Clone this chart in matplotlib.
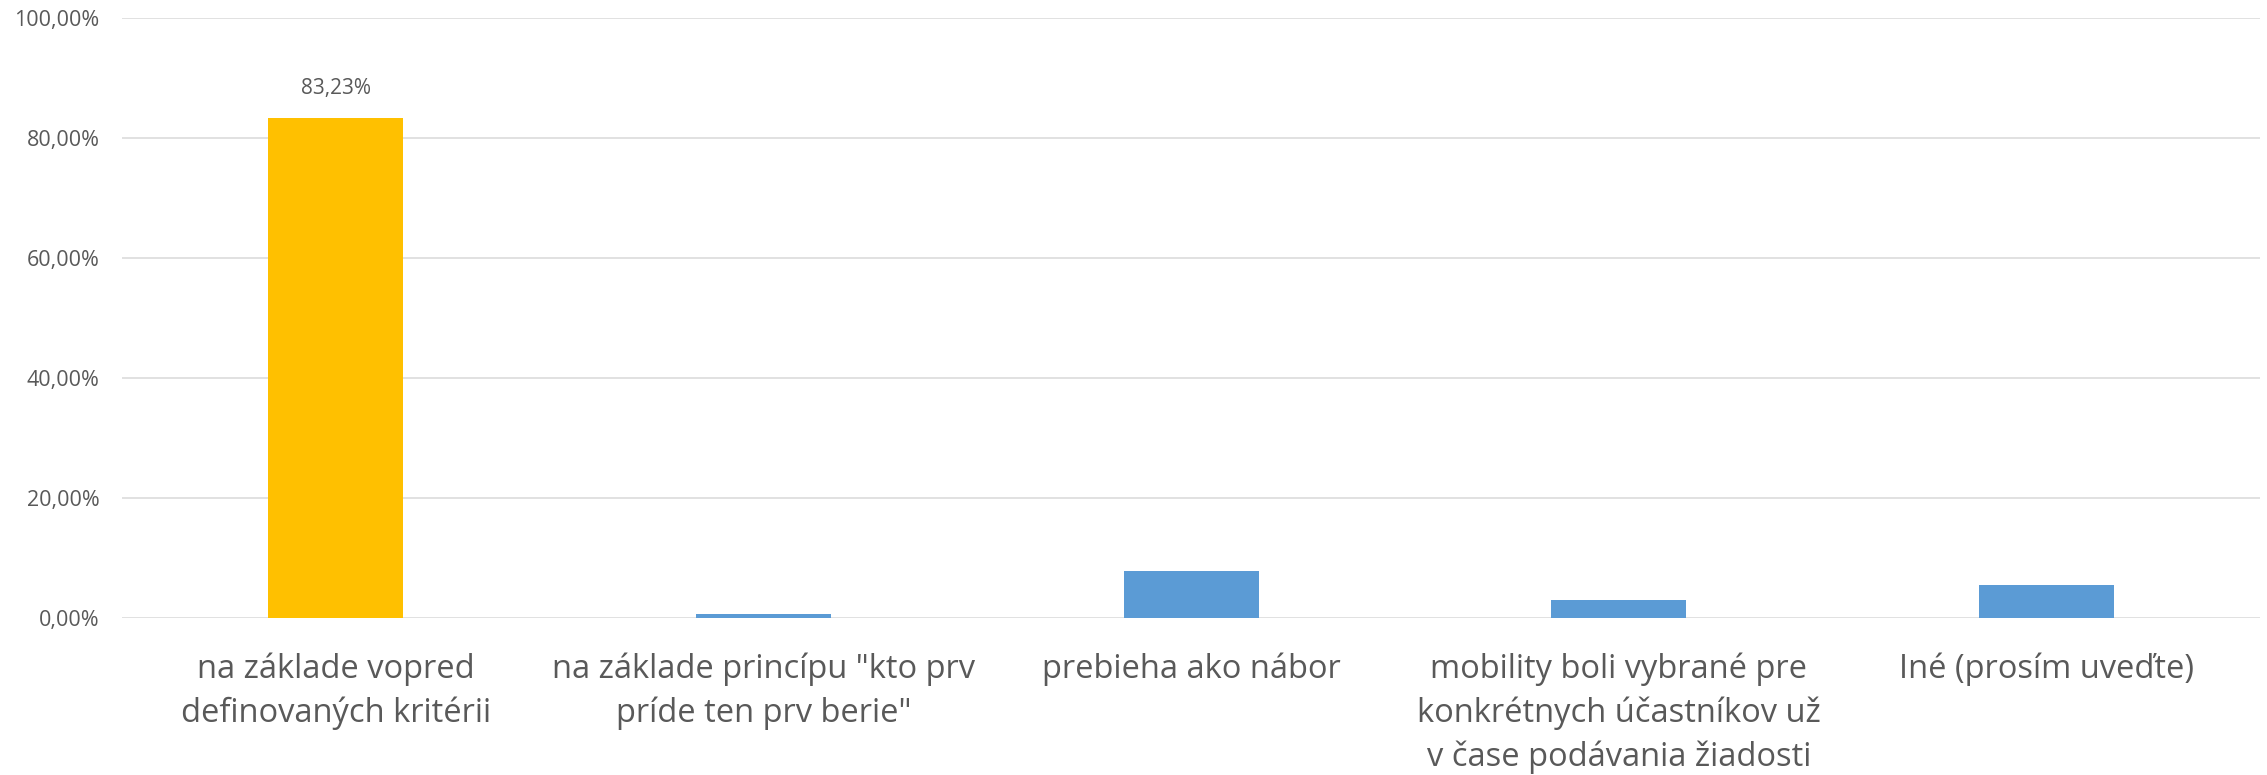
import matplotlib
matplotlib.use("Agg")
import matplotlib.pyplot as plt
from matplotlib.ticker import FuncFormatter, MultipleLocator

categories = [
    "na základe vopred\ndefinovaných kritérii",
    "na základe princípu \"kto prv\npríde ten prv berie\"",
    "prebieha ako nábor",
    "mobility boli vybrané pre\nkonkrétnych účastníkov už\nv čase podávania žiadosti",
    "Iné (prosím uveďte)",
]
values = [83.23, 0.6, 7.74, 3.0, 5.4]
colors = ["#FFC000", "#5B9BD5", "#5B9BD5", "#5B9BD5", "#5B9BD5"]
label_idx = 0

plt.rcParams['font.family'] = ['Open Sans', 'DejaVu Sans']
text_color = "#595959"

fig = plt.figure(figsize=(22.67, 7.75), dpi=100)
ax = fig.add_axes([0.0538, 0.2032, 0.9432, 0.7742])

x = range(len(categories))
bars = ax.bar(x, [v / 100 for v in values], width=0.316, color=colors, zorder=3)

ax.set_xlim(-0.5, len(categories) - 0.5)
ax.set_ylim(0, 1)
ax.yaxis.set_major_locator(MultipleLocator(0.2))
ax.yaxis.set_major_formatter(FuncFormatter(lambda v, p: f"{v*100:.2f}%".replace(".", ",")))
ax.grid(axis="y", color="#D9D9D9", linewidth=1.1, zorder=0)
ax.set_axisbelow(True)
for s in ax.spines.values():
    s.set_visible(False)
ax.tick_params(axis="y", length=0, pad=16, labelsize=15.5, labelcolor=text_color)
ax.tick_params(axis="x", length=0, pad=25, labelsize=23.5, labelcolor=text_color)
ax.set_xticks(list(x))
ax.set_xticklabels(categories, linespacing=1.42)

b = bars[label_idx]
ax.annotate(f"{values[label_idx]:.2f}%".replace(".", ","),
            (b.get_x() + b.get_width() / 2, b.get_height()),
            xytext=(0, 14), textcoords="offset points",
            ha="center", va="bottom", fontsize=15, color=text_color)

fig.savefig("out.png", dpi=100)
